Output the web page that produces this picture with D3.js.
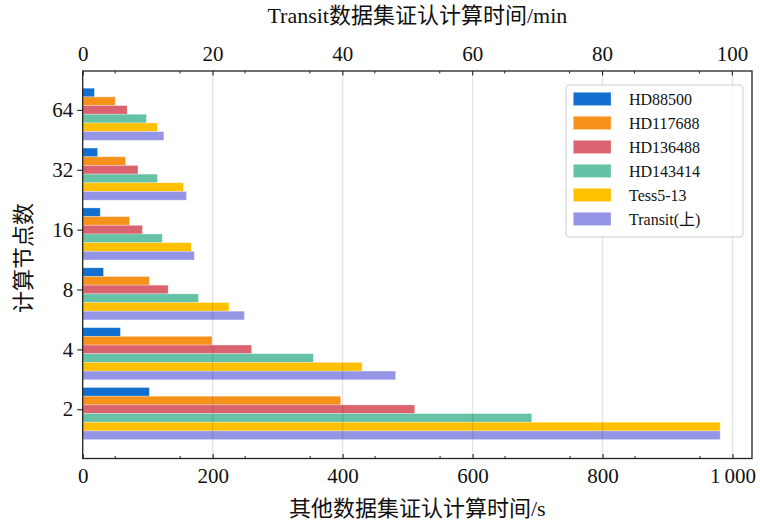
<!DOCTYPE html>
<html>
<head>
<meta charset="utf-8">
<script src="https://cdn.jsdelivr.net/npm/d3@7"></script>
<style>
  html, body { margin: 0; padding: 0; background: #fff; }
  svg { display: block; }
  text { font-family: "Liberation Serif", "Noto Sans CJK SC", serif; fill: #111; }
</style>
</head>
<body>
<svg id="chart" width="760" height="525"></svg>
<script>
// Node counts per group (bottom to top)
const nodeCounts = ["2", "4", "8", "16", "32", "64"];

// Verification times in seconds (bottom axis)
const hd88500  = [102.5, 58, 32, 27, 23, 18];
const hd117688 = [397, 199, 102.5, 72, 66, 50];
const hd136488 = [511, 260, 131.5, 92, 85, 68.5];
const hd143414 = [691, 355, 178, 122.5, 115, 98];
const tess513  = [981, 430, 225, 167, 155, 115];

// Transit verification time in minutes (top axis)
const transitMin = [98.2, 48.2, 24.9, 17.2, 16.0, 12.5];

const seriesNames = ["HD88500", "HD117688", "HD136488", "HD143414", "Tess5-13", "Transit(上)"];
const seriesColors = ["#1170cf", "#f6921b", "#d9646f", "#66c2a6", "#ffc000", "#9595e6"];

const bottomTicks = [0, 200, 400, 600, 800, 1000];
const bottomTickLabels = ["0", "200", "400", "600", "800", "1\u2009000"];
const topTicks = [0, 20, 40, 60, 80, 100];
const topTickLabels = ["0", "20", "40", "60", "80", "100"];

const svg = d3.select("#chart");
const plot = { left: 82.7, right: 752, top: 71, bottom: 458.5 };

const xSec = d3.scaleLinear().domain([0, 1030]).range([plot.left, plot.right]);
const xMin = d3.scaleLinear().domain([0, 103.1]).range([plot.left, plot.right]);
const y = d3.scaleLinear().domain([-0.823, 5.65]).range([plot.bottom, plot.top]);

const barH = 0.145;
const barPx = Math.abs(y(0) - y(barH));

const series = [
  { values: hd88500, scale: xSec },
  { values: hd117688, scale: xSec },
  { values: hd136488, scale: xSec },
  { values: hd143414, scale: xSec },
  { values: tess513, scale: xSec },
  { values: transitMin, scale: xMin }
];

// Bars
const barsG = svg.append("g");
series.forEach((s, k) => {
  barsG.selectAll(null)
    .data(s.values)
    .enter()
    .append("rect")
    .attr("x", s.scale(0))
    .attr("y", (d, i) => y(i + (2 - k) * barH) - barPx / 2)
    .attr("width", d => s.scale(d) - s.scale(0))
    .attr("height", barPx)
    .attr("fill", seriesColors[k])
    .attr("stroke", "rgba(255,255,255,0.35)")
    .attr("stroke-width", 0.8);
});

// Vertical grid lines on top of the bars
svg.append("g")
  .selectAll("line")
  .data(bottomTicks.filter(t => t > 0))
  .enter()
  .append("line")
  .attr("x1", d => xSec(d)).attr("x2", d => xSec(d))
  .attr("y1", plot.top).attr("y2", plot.bottom)
  .attr("stroke", "rgba(0,0,0,0.1)")
  .attr("stroke-width", 1.4);

// Legend
const leg = svg.append("g");
leg.append("rect")
  .attr("x", 566).attr("y", 85).attr("width", 177).attr("height", 152)
  .attr("rx", 3)
  .attr("fill", "rgba(255,255,255,0.8)")
  .attr("stroke", "#cccccc").attr("stroke-width", 1);
seriesNames.forEach((name, k) => {
  const cy = 99 + 24 * k;
  leg.append("rect")
    .attr("x", 573.3).attr("y", cy - 6.7).attr("width", 37.7).attr("height", 13.3)
    .attr("fill", seriesColors[k])
    .attr("stroke", "rgba(255,255,255,0.35)").attr("stroke-width", 0.8);
  leg.append("text")
    .attr("x", 629).attr("y", cy + 5.5)
    .attr("font-size", 16)
    .text(name);
});

// Axes: bottom (seconds) and top (minutes), ticks pointing inward
const axisColor = "#222";
const bottomAxis = d3.axisBottom(xSec).tickValues(bottomTicks).tickFormat((d, i) => bottomTickLabels[i]).tickSizeInner(-4.5).tickSizeOuter(0).tickPadding(10);
const gB = svg.append("g").attr("transform", `translate(0,${plot.bottom})`).call(bottomAxis);
const topAxis = d3.axisTop(xMin).tickValues(topTicks).tickFormat((d, i) => topTickLabels[i]).tickSizeInner(-4.5).tickSizeOuter(0).tickPadding(10);
const gT = svg.append("g").attr("transform", `translate(0,${plot.top})`).call(topAxis);

// Minor ticks
const minorB = d3.range(50, 1030, 100);
const minorT = d3.range(5, 103, 10);
svg.append("g").selectAll("line").data(minorB).enter().append("line")
  .attr("x1", d => xSec(d)).attr("x2", d => xSec(d))
  .attr("y1", plot.bottom).attr("y2", plot.bottom - 2.5)
  .attr("stroke", axisColor).attr("stroke-width", 1);
svg.append("g").selectAll("line").data(minorT).enter().append("line")
  .attr("x1", d => xMin(d)).attr("x2", d => xMin(d))
  .attr("y1", plot.top).attr("y2", plot.top + 2.5)
  .attr("stroke", axisColor).attr("stroke-width", 1);

// Left axis with category labels (ticks outward)
const leftAxis = d3.axisLeft(y).tickValues(d3.range(nodeCounts.length)).tickFormat(i => nodeCounts[i]).tickSizeInner(5.5).tickSizeOuter(0).tickPadding(4);
const gL = svg.append("g").attr("transform", `translate(${plot.left},0)`).call(leftAxis);

[gB, gT, gL].forEach(g => {
  g.select(".domain").remove();
  g.selectAll(".tick line").attr("stroke", axisColor).attr("stroke-width", 1.1);
  g.selectAll(".tick text").attr("font-family", "Liberation Serif, serif").attr("font-size", 21).attr("fill", "#111");
});

// Frame
svg.append("rect")
  .attr("x", plot.left).attr("y", plot.top)
  .attr("width", plot.right - plot.left).attr("height", plot.bottom - plot.top)
  .attr("fill", "none").attr("stroke", axisColor).attr("stroke-width", 1.3);

// Axis titles
const cx = (plot.left + plot.right) / 2;
svg.append("text").attr("x", cx).attr("y", 23).attr("text-anchor", "middle").attr("font-size", 22)
  .text("Transit数据集证认计算时间/min");
svg.append("text").attr("x", cx).attr("y", 516).attr("text-anchor", "middle").attr("font-size", 22)
  .text("其他数据集证认计算时间/s");
svg.append("text").attr("transform", "translate(31,258) rotate(-90)").attr("text-anchor", "middle").attr("font-size", 22)
  .text("计算节点数");
</script>
</body>
</html>
